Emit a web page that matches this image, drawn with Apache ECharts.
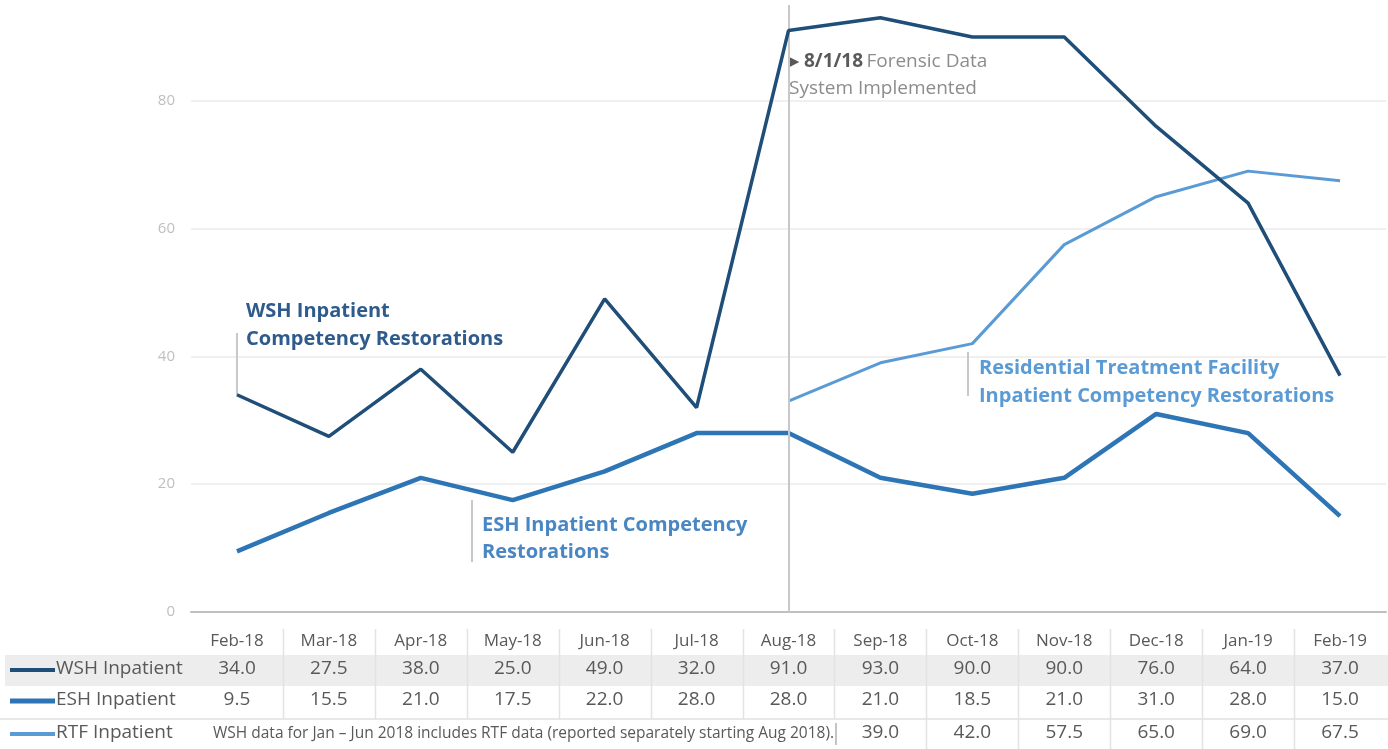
<!DOCTYPE html>
<html><head><meta charset="utf-8">
<script src="https://cdn.jsdelivr.net/npm/echarts@6/dist/echarts.min.js"></script>
<style>html,body{margin:0;padding:0;background:#fff}#c{width:1388px;height:749px}</style>
</head><body><div id="c"></div>
<script>
const months = ['Feb-18','Mar-18','Apr-18','May-18','Jun-18','Jul-18','Aug-18','Sep-18','Oct-18','Nov-18','Dec-18','Jan-19','Feb-19'];
const wsh = [34, 27.5, 38, 25, 49, 32, 91, 93, 90, 90, 76, 64, 37];
const esh = [9.5, 15.5, 21, 17.5, 22, 28, 28, 21, 18.5, 21, 31, 28, 15];
const rtf = [null, null, null, null, null, null, 33, 39, 42, 57.5, 65, 69, 67.5];
const yTicks = [0, 20, 40, 60, 80];
const seriesNames = ['WSH Inpatient', 'ESH Inpatient', 'RTF Inpatient'];
const note = 'WSH data for Jan – Jun 2018 includes RTF data (reported separately starting Aug 2018).';

const C_WSH = '#1f4e79', C_ESH = '#2e75b6', C_RTF = '#5b9bd5';
const FONT = '"Open Sans", Lato, sans-serif';
const GRID = {left: 191, right: 2, top: 5, bottom: 137};
const AXIS_Y = 749 - GRID.bottom;

function fmt(v){ return v == null ? '' : v.toFixed(1); }

function rowAxis(values, offset, hideBefore){
  return {
    type: 'category', data: months, position: 'bottom', offset: offset, gridIndex: 0,
    axisLine: {show: false}, axisTick: {show: false}, splitLine: {show: false},
    axisLabel: {
      margin: 0, verticalAlign: 'middle', color: '#595959', fontSize: 19, fontFamily: FONT, interval: 0,
      formatter: function(val, idx){ return idx < hideBefore ? '' : fmt(values[idx]); }
    }
  };
}

const chart = echarts.init(document.getElementById('c'));
const option = {
  animation: false,
  backgroundColor: '#fff',
  grid: GRID,
  xAxis: [
    {
      type: 'category', data: months, boundaryGap: true,
      axisLine: {show: true, lineStyle: {color: '#bfbfbf', width: 2}},
      axisTick: {show: false},
      axisLabel: {margin: 29, verticalAlign: 'middle', color: '#595959', fontSize: 17, fontFamily: FONT, interval: 0}
    },
    rowAxis(wsh, 669 - AXIS_Y, 0),
    rowAxis(esh, 700 - AXIS_Y, 0),
    rowAxis(rtf, 733 - AXIS_Y, 7)
  ],
  yAxis: {
    type: 'value', min: 0, max: 95, interval: 20,
    axisLine: {show: false}, axisTick: {show: false},
    axisLabel: {color: '#bfbfbf', fontSize: 15, fontFamily: FONT, margin: 16, showMaxLabel: false,
      formatter: function(v){ return yTicks.indexOf(v) >= 0 ? String(v) : ''; }},
    splitLine: {show: true, showMaxLine: false, showMinLine: false, lineStyle: {color: '#f0f0f0', width: 2}}
  },
  series: [
    {name: seriesNames[2], type: 'line', data: rtf, symbol: 'none', lineStyle: {color: C_RTF, width: 3}, itemStyle: {color: C_RTF}, z: 3},
    {name: seriesNames[1], type: 'line', data: esh, symbol: 'none', lineStyle: {color: C_ESH, width: 4.5}, itemStyle: {color: C_ESH}, z: 4},
    {name: seriesNames[0], type: 'line', data: wsh, symbol: 'none', lineStyle: {color: C_WSH, width: 3.5}, itemStyle: {color: C_WSH}, z: 5,
      markLine: {silent: true, symbol: 'none', label: {show: false},
        lineStyle: {color: '#c8c8c8', width: 2, type: 'solid'},
        data: [{xAxis: 'Aug-18'}]}
    }
  ]
};
chart.setOption(option);

// table decorations, computed from the axis scale
const xs = months.map((m, i) => chart.convertToPixel({xAxisIndex: 0}, i));
const g = [];
g.push({type: 'rect', z: -10, shape: {x: 5, y: 655, width: 1383, height: 31}, style: {fill: '#ededed'}});
g.push({type: 'line', z: 1, shape: {x1: 0, y1: 719, x2: 1388, y2: 719}, style: {stroke: '#e0e0e0', lineWidth: 1.5}});
for (let i = 1; i < months.length; i++) {
  const x = Math.round((xs[i - 1] + xs[i]) / 2) + 0.5;
  const y2 = i <= 7 ? 719 : 749;
  g.push({type: 'line', z: 1, shape: {x1: x, y1: 629, x2: x, y2: y2}, style: {stroke: '#e3e3e3', lineWidth: 1.5}});
}
// legend keys of table
const keyCols = [C_WSH, C_ESH, C_RTF], keyY = [670, 701, 734], keyW = [4, 5, 4];
for (let k = 0; k < 3; k++) {
  g.push({type: 'line', shape: {x1: 10, y1: keyY[k], x2: 55, y2: keyY[k]}, style: {stroke: keyCols[k], lineWidth: keyW[k]}});
  g.push({type: 'text', x: 56, y: keyY[k] - 1, style: {text: seriesNames[k], fill: '#595959', font: '19px ' + FONT, verticalAlign: 'middle'}});
}
g.push({type: 'text', x: 213, y: 734, style: {text: note, fill: '#595959', font: '15.5px ' + FONT, verticalAlign: 'middle'}});
g.push({type: 'line', shape: {x1: 836, y1: 723, x2: 836, y2: 745}, style: {stroke: '#888', lineWidth: 1}});

// annotations
function pt(i, v){ return chart.convertToPixel({xAxisIndex: 0, yAxisIndex: 0}, [i, v]); }
const pW = pt(0, wsh[0]);
g.push({type: 'line', shape: {x1: pW[0], y1: 333, x2: pW[0], y2: pW[1]}, style: {stroke: '#c8c8c8', lineWidth: 2}});
g.push({type: 'text', x: 246, y: 297, style: {text: 'WSH Inpatient\nCompetency Restorations', fill: '#2f5b8c', font: 'bold 20px ' + FONT, lineHeight: 28}});
g.push({type: 'line', shape: {x1: 472, y1: 500, x2: 472, y2: 562}, style: {stroke: '#c8c8c8', lineWidth: 2}});
g.push({type: 'text', x: 482, y: 512, style: {text: 'ESH Inpatient Competency\nRestorations', fill: '#4a86c2', font: 'bold 20px ' + FONT, lineHeight: 27}});
g.push({type: 'line', shape: {x1: 968, y1: 352, x2: 968, y2: 396}, style: {stroke: '#c8c8c8', lineWidth: 2}});
g.push({type: 'text', x: 979, y: 354, style: {text: 'Residential Treatment Facility\nInpatient Competency Restorations', fill: '#5b9bd5', font: 'bold 20px ' + FONT, lineHeight: 28}});
g.push({type: 'text', x: 789, y: 48, style: {text: '{a|▸ 8/1/18} {b|Forensic Data}\n{b|System Implemented}', verticalAlign: 'top',
  rich: {a: {fill: '#595959', font: 'bold 19px ' + FONT, lineHeight: 27}, b: {fill: '#8c8c8c', font: '19px ' + FONT, lineHeight: 27}}}});
chart.setOption({graphic: {elements: g}});
</script></body></html>
